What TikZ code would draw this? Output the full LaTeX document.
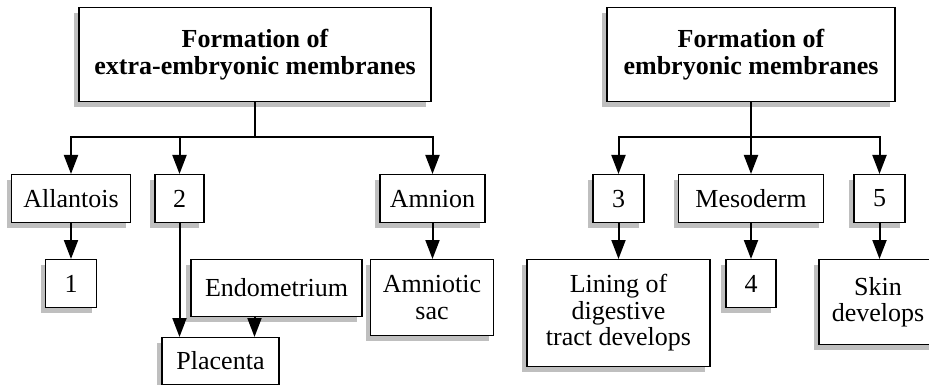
\documentclass[tikz,border=0pt]{standalone}
\usepackage{fontspec}
\setmainfont{Liberation Serif}
\usetikzlibrary{arrows.meta,shadows}

\begin{document}
\begin{tikzpicture}[
  x=1pt, y=-1pt,
  box/.style={draw, line width=1.1pt, fill=white, inner sep=0pt, align=center, anchor=north, minimum height=48pt, font=\fontsize{26}{26.5}\selectfont, drop shadow={shadow xshift=-5pt, shadow yshift=-5pt, fill=black!25, opacity=1}},
  headbox/.style={box, font=\fontsize{26}{26.5}\selectfont\bfseries, minimum height=94pt},
  line/.style={line width=2pt},
  arrow/.style={line, -{Triangle[length=19pt, width=14pt]}}
]
\useasboundingbox (0,0) rectangle (929,385);

% extra-embryonic side
\node[headbox, minimum width=352pt] (ext) at (255,7) {Formation of\\extra-embryonic membranes};
\node[box, minimum width=119pt] (allantois) at (71,174) {Allantois};
\node[box, minimum width=49pt] (two) at (179.5,174) {2};
\node[box, minimum width=105pt] (amnion) at (432.5,174) {Amnion};
\node[box, minimum width=51pt] (one) at (71,259) {1};
\node[box, minimum width=171pt, minimum height=57pt] (endo) at (276.5,259) {Endometrium};
\node[box, minimum width=123pt, minimum height=76pt] (sac) at (432,259) {Amniotic\\sac};
\node[box, minimum width=117pt, minimum height=47pt] (placenta) at (220.5,337) {Placenta};

% embryonic side
\node[headbox, minimum width=288pt] (emb) at (751,7) {Formation of\\embryonic membranes};
\node[box, minimum width=51pt] (three) at (618.5,174) {3};
\node[box, minimum width=145pt] (meso) at (751,174) {Mesoderm};
\node[box, minimum width=51pt] (five) at (879.5,174) {5};
\node[box, minimum width=183pt, minimum height=107pt] (lining) at (618.5,259) {Lining of\\digestive\\tract develops};
\node[box, minimum width=50pt] (four) at (751,259) {4};
\node[box, minimum width=118pt, minimum height=85pt] (skin) at (878,259) {Skin\\develops};

\coordinate (extbus) at (ext.south |- 0,137);
\coordinate (embbus) at (emb.south |- 0,137);

\draw[line] (ext.south) -- (extbus);
\draw[arrow] (extbus) -| (allantois.north);
\draw[arrow] (extbus) -| (amnion.north);
\draw[arrow] (two.north |- extbus) -- (two.north);
\draw[arrow] (allantois.south) -- (allantois.south |- one.north);
\draw[arrow] (amnion.south) -- (amnion.south |- sac.north);
\draw[arrow] (two.south) -- (two.south |- placenta.north);
\draw[arrow] ([xshift=-22pt]endo.south) -- ([xshift=-22pt]endo.south |- placenta.north);

\draw[arrow] (emb.south) -- (emb.south |- meso.north);
\draw[arrow] (embbus) -| (three.north);
\draw[arrow] (embbus) -| (five.north);
\draw[arrow] (three.south) -- (three.south |- lining.north);
\draw[arrow] (meso.south) -- (meso.south |- four.north);
\draw[arrow] (five.south) -- (five.south |- skin.north);
\end{tikzpicture}
\end{document}
